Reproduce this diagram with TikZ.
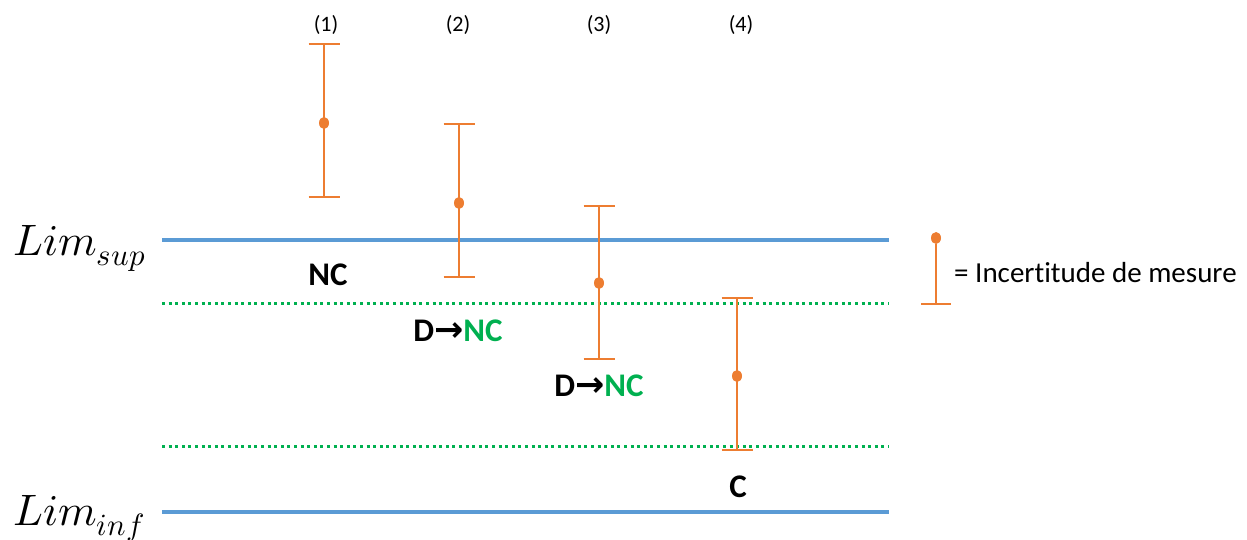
\documentclass[tikz,border=0pt]{standalone}
\usepackage{unicode-math}
\setmainfont{Carlito}[Ligatures=NoCommon]
\setmathfont{Latin Modern Math}
\newfontfamily\arrowfont{DejaVu Sans}
\usetikzlibrary{shapes.geometric}
\definecolor{limblue}{HTML}{5B9BD5}
\definecolor{zonegreen}{HTML}{00B050}
\definecolor{barorange}{HTML}{ED7D31}
\newcommand{\decarrow}{{\arrowfont\bfseries\fontsize{35}{38}\selectfont\raisebox{0.5pt}{→}}}
\begin{document}
\begin{tikzpicture}[x=1pt,y=-1pt,
  limline/.style={draw=limblue,line width=4.2pt},
  zoneline/.style={draw=zonegreen,line width=3pt,dash pattern=on 3pt off 3.6pt},
  bar/.style={draw=barorange,line width=1.4pt},
  meas/.style={ellipse,fill=barorange,inner sep=0pt,minimum width=10pt,minimum height=12pt},
  idx/.style={font=\fontsize{22}{26}\selectfont,inner sep=0pt},
  verdict/.style={font=\fontsize{33}{38}\selectfont\bfseries,inner sep=0pt},
  limlabel/.style={font=\fontsize{44}{50}\selectfont,inner sep=0pt,anchor=base west}]
\useasboundingbox (0,0) rectangle (1247,540);

% tolerance limits
\coordinate (supL) at (162,240); \coordinate (supR) at (889,240);
\coordinate (infL) at (162,512); \coordinate (infR) at (889,512);
\draw[limline] (supL) -- (supR);
\draw[limline] (infL) -- (infR);
\node[limlabel] (limsup) at (13,255) {$Lim_{sup}$};
\node[limlabel] (liminf) at (13,525) {$Lim_{inf}$};

% guard band
\coordinate (g1L) at (162,303); \coordinate (g1R) at (889,303);
\coordinate (g2L) at (162,446); \coordinate (g2R) at (889,446);
\draw[zoneline] (g1L) -- (g1R);
\draw[zoneline] (g2L) -- (g2R);

% measurements with uncertainty intervals
\foreach \n/\x/\t/\m/\b in {1/324/44/123/197, 2/459/124/203/277, 3/599/206/283/359, 4/737/298/376/450}{
  \coordinate (top\n) at (\x,\t);
  \coordinate (bot\n) at (\x,\b);
  \draw[bar] (top\n) -- (bot\n);
  \draw[bar] ([xshift=-15.5pt]top\n) -- ([xshift=15.5pt]top\n);
  \draw[bar] ([xshift=-15.5pt]bot\n) -- ([xshift=15.5pt]bot\n);
  \node[meas] (m\n) at (\x,\m) {};
}
\node[idx] (i1) at (326,25) {(1)};
\node[idx] (i2) at (458,25) {(2)};
\node[idx] (i3) at (599,25) {(3)};
\node[idx] (i4) at (741,25) {(4)};

% decisions
\node[verdict] (v1) at (328,275) {NC};
\node[verdict] (v2) at (458,331) {D\decarrow\textcolor{zonegreen}{NC}};
\node[verdict] (v3) at (599,386) {D\decarrow\textcolor{zonegreen}{NC}};
\node[verdict] (v4) at (738,487) {C};

% legend
\node[meas] (legdot) at (936,238) {};
\coordinate (legbot) at (936,304);
\draw[bar] (legdot) -- (legbot);
\draw[bar] ([xshift=-15pt]legbot) -- ([xshift=15pt]legbot);
\node[font=\fontsize{29}{34}\selectfont,anchor=west,inner sep=0pt] (legtext) at (954,273) {= Incertitude de mesure};
\end{tikzpicture}
\end{document}
